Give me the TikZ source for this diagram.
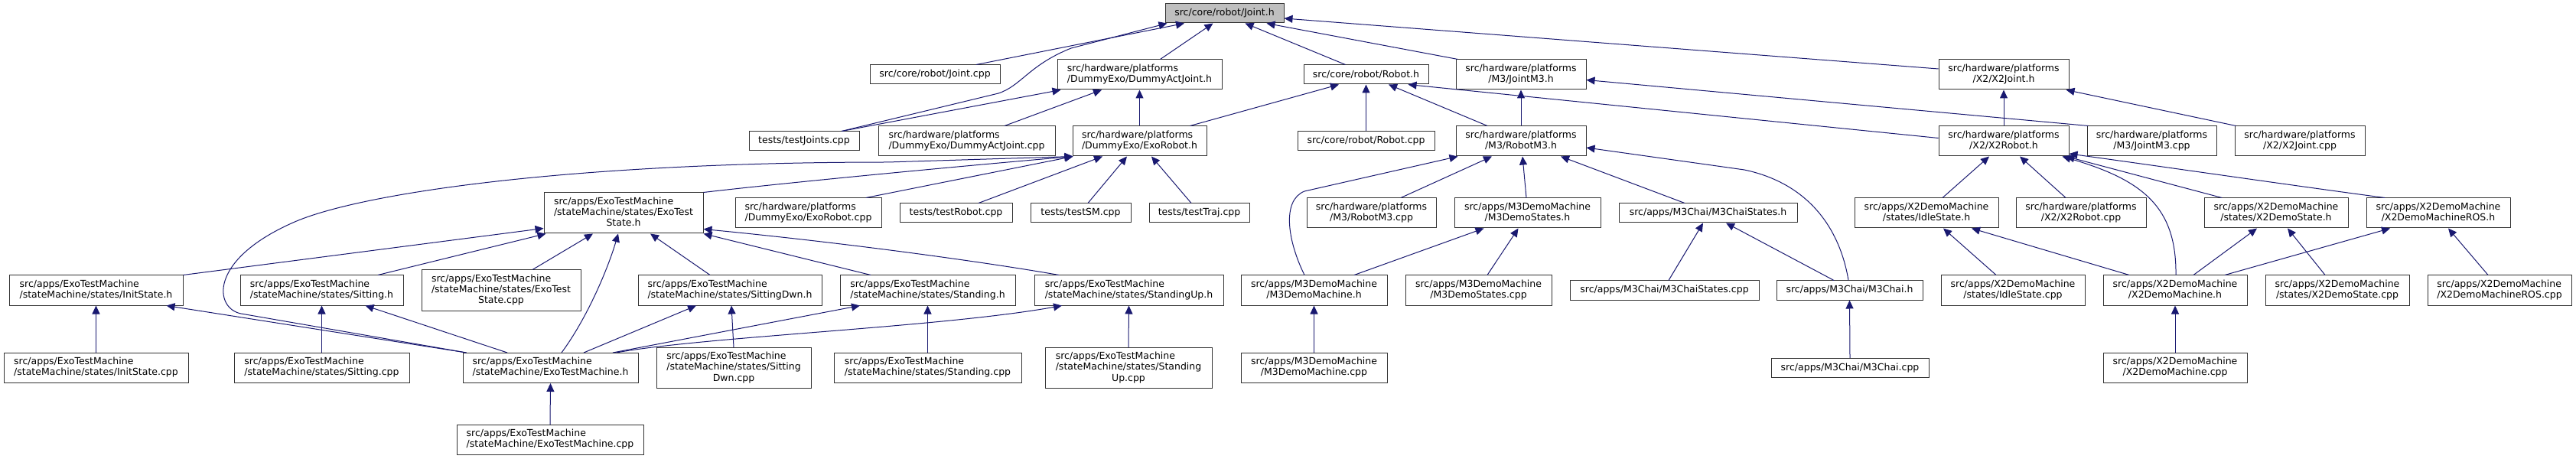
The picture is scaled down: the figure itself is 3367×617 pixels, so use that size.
\documentclass[tikz,border=0pt]{standalone}
\usepackage{fontspec}
\setmainfont{DejaVu Sans}
\usetikzlibrary{arrows.meta}
\definecolor{edgecol}{HTML}{191970}
\definecolor{boxgray}{HTML}{BFBFBF}
\newcommand{\twol}[2]{\begin{tabular}{@{}l@{}}#1\\\multicolumn{1}{@{}c@{}}{#2}\end{tabular}}
\newcommand{\threel}[3]{\begin{tabular}{@{}l@{}}#1\\#2\\\multicolumn{1}{@{}c@{}}{#3}\end{tabular}}
\tikzset{
 fbox/.style={draw=black!80, line width=1pt, fill=white, inner sep=0pt, font=\fontsize{12.5pt}{14.2pt}\selectfont},
 hA/.style={fbox, minimum height=25pt},
 hB/.style={fbox, minimum height=39pt},
 hC/.style={fbox, minimum height=53pt},
 dep/.style={draw=edgecol, line width=1pt, -{Triangle[length=11pt,width=10pt]}},
}
\begin{document}
\begin{tikzpicture}[x=1pt,y=-1pt]
\path[fill=white,use as bounding box] (0,0) rectangle (3367,617);
% row 0
\node[hA, fill=boxgray, minimum width=155pt] (jointh) at (1600.5,17.5) {src/core/robot/Joint.h};
% row 1
\node[hA, minimum width=170pt] (jointcpp) at (1222,97.5) {src/core/robot/Joint.cpp};
\node[hB, minimum width=215pt] (dajh) at (1489.5,97.5) {\twol{src/hardware/platforms}{/DummyExo/DummyActJoint.h}};
\node[hA, minimum width=163pt] (roboth) at (1785.5,97.5) {src/core/robot/Robot.h};
\node[hB, minimum width=170pt] (jm3h) at (1988,97.5) {\twol{src/hardware/platforms}{/M3/JointM3.h}};
\node[hB, minimum width=170pt] (x2jh) at (2619,97.5) {\twol{src/hardware/platforms}{/X2/X2Joint.h}};
% row 2
\node[hA, minimum width=144pt] (testj) at (1051,184.5) {tests/testJoints.cpp};
\node[hB, minimum width=231pt] (dajcpp) at (1263.5,184.5) {\twol{src/hardware/platforms}{/DummyExo/DummyActJoint.cpp}};
\node[hB, minimum width=175pt] (exorh) at (1489.5,184.5) {\twol{src/hardware/platforms}{/DummyExo/ExoRobot.h}};
\node[hA, minimum width=179pt] (robotcpp) at (1785.5,184.5) {src/core/robot/Robot.cpp};
\node[hB, minimum width=170pt] (rm3h) at (1988,184.5) {\twol{src/hardware/platforms}{/M3/RobotM3.h}};
\node[hB, minimum width=170pt] (x2rh) at (2619,184.5) {\twol{src/hardware/platforms}{/X2/X2Robot.h}};
\node[hB, minimum width=169pt] (jm3cpp) at (2812.5,184.5) {\twol{src/hardware/platforms}{/M3/JointM3.cpp}};
\node[hB, minimum width=170pt] (x2jcpp) at (3006,184.5) {\twol{src/hardware/platforms}{/X2/X2Joint.cpp}};
% row 3
\node[hC, minimum width=208pt] (etsh) at (815,278.5) {\threel{src/apps/ExoTestMachine}{/stateMachine/states/ExoTest}{State.h}};
\node[hB, minimum width=191pt] (exorcpp) at (1056.5,278.5) {\twol{src/hardware/platforms}{/DummyExo/ExoRobot.cpp}};
\node[hA, minimum width=147pt] (trobot) at (1249.5,278.5) {tests/testRobot.cpp};
\node[hA, minimum width=131pt] (tsm) at (1412.5,278.5) {tests/testSM.cpp};
\node[hA, minimum width=131pt] (ttraj) at (1567.5,278.5) {tests/testTraj.cpp};
\node[hB, minimum width=169pt] (rm3cpp) at (1792.5,278.5) {\twol{src/hardware/platforms}{/M3/RobotM3.cpp}};
\node[hB, minimum width=191pt] (m3dsh) at (1996.5,278.5) {\twol{src/apps/M3DemoMachine}{/M3DemoStates.h}};
\node[hA, minimum width=233pt] (m3csh) at (2232.5,278.5) {src/apps/M3Chai/M3ChaiStates.h};
\node[hB, minimum width=188pt] (idleh) at (2518,278.5) {\twol{src/apps/X2DemoMachine}{/states/IdleState.h}};
\node[hB, minimum width=170pt] (x2rcpp) at (2720,278.5) {\twol{src/hardware/platforms}{/X2/X2Robot.cpp}};
\node[hB, minimum width=188pt] (x2dsh) at (2975,278.5) {\twol{src/apps/X2DemoMachine}{/states/X2DemoState.h}};
\node[hB, minimum width=188pt] (x2rosh) at (3187,278.5) {\twol{src/apps/X2DemoMachine}{/X2DemoMachineROS.h}};
% row 4
\node[hB, minimum width=227pt] (inith) at (125.5,379.5) {\twol{src/apps/ExoTestMachine}{/stateMachine/states/InitState.h}};
\node[hB, minimum width=213pt] (sith) at (420.5,379.5) {\twol{src/apps/ExoTestMachine}{/stateMachine/states/Sitting.h}};
\node[hC, minimum width=208pt] (etscpp) at (655,379.5) {\threel{src/apps/ExoTestMachine}{/stateMachine/states/ExoTest}{State.cpp}};
\node[hB, minimum width=240pt] (sdh) at (954,379.5) {\twol{src/apps/ExoTestMachine}{/stateMachine/states/SittingDwn.h}};
\node[hB, minimum width=229pt] (standh) at (1212.5,379.5) {\twol{src/apps/ExoTestMachine}{/stateMachine/states/Standing.h}};
\node[hB, minimum width=247pt] (suph) at (1475.5,379.5) {\twol{src/apps/ExoTestMachine}{/stateMachine/states/StandingUp.h}};
\node[hB, minimum width=191pt] (m3dmh) at (1717.5,379.5) {\twol{src/apps/M3DemoMachine}{/M3DemoMachine.h}};
\node[hB, minimum width=191pt] (m3dscpp) at (1932.5,379.5) {\twol{src/apps/M3DemoMachine}{/M3DemoStates.cpp}};
\node[hA, minimum width=247pt] (m3cscpp) at (2175.5,379.5) {src/apps/M3Chai/M3ChaiStates.cpp};
\node[hA, minimum width=191pt] (m3ch) at (2417.5,379.5) {src/apps/M3Chai/M3Chai.h};
\node[hB, minimum width=188pt] (idlecpp) at (2631,379.5) {\twol{src/apps/X2DemoMachine}{/states/IdleState.cpp}};
\node[hB, minimum width=188pt] (x2dmh) at (2843,379.5) {\twol{src/apps/X2DemoMachine}{/X2DemoMachine.h}};
\node[hB, minimum width=188pt] (x2dscpp) at (3055,379.5) {\twol{src/apps/X2DemoMachine}{/states/X2DemoState.cpp}};
\node[hB, minimum width=188pt] (x2roscpp) at (3267,379.5) {\twol{src/apps/X2DemoMachine}{/X2DemoMachineROS.cpp}};
% row 5
\node[hB, minimum width=241pt] (initcpp) at (125.5,481) {\twol{src/apps/ExoTestMachine}{/stateMachine/states/InitState.cpp}};
\node[hB, minimum width=229pt] (sitcpp) at (420.5,481) {\twol{src/apps/ExoTestMachine}{/stateMachine/states/Sitting.cpp}};
\node[hB, minimum width=229pt] (etmh) at (719.5,481) {\twol{src/apps/ExoTestMachine}{/stateMachine/ExoTestMachine.h}};
\node[hC, minimum width=202pt] (sdcpp) at (959,481) {\threel{src/apps/ExoTestMachine}{/stateMachine/states/Sitting}{Dwn.cpp}};
\node[hB, minimum width=245pt] (standcpp) at (1212.5,481) {\twol{src/apps/ExoTestMachine}{/stateMachine/states/Standing.cpp}};
\node[hC, minimum width=218pt] (supcpp) at (1475,481) {\threel{src/apps/ExoTestMachine}{/stateMachine/states/Standing}{Up.cpp}};
\node[hB, minimum width=191pt] (m3dmcpp) at (1717.5,481) {\twol{src/apps/M3DemoMachine}{/M3DemoMachine.cpp}};
\node[hA, minimum width=206pt] (m3ccpp) at (2418,481) {src/apps/M3Chai/M3Chai.cpp};
\node[hB, minimum width=188pt] (x2dmcpp) at (2843,481) {\twol{src/apps/X2DemoMachine}{/X2DemoMachine.cpp}};
% row 6
\node[hB, minimum width=244pt] (etmcpp) at (719,575) {\twol{src/apps/ExoTestMachine}{/stateMachine/ExoTestMachine.cpp}};

% edges into Joint.h
\draw[dep] ([xshift=54pt]jointcpp.north) -- ([xshift=-52.5pt]jointh.south);
\draw[dep] ([xshift=49pt]testj.north) -- (1305,122) .. controls (1335,112) and (1345,85) .. (1400,63) -- ([xshift=-75pt]jointh.south);
\draw[dep] ([xshift=27pt]dajh.north) -- ([xshift=-15pt]jointh.south);
\draw[dep] ([xshift=-27pt]roboth.north) -- ([xshift=27pt]jointh.south);
\draw[dep] ([xshift=3pt]jm3h.north west) -- ([xshift=55pt]jointh.south);
\draw[dep] ([yshift=7.5pt]x2jh.west) -- ([yshift=-6.5pt]jointh.east);
% DummyActJoint.h
\draw[dep] ([xshift=49pt]testj.north) -- ([xshift=-103pt]dajh.south);
\draw[dep] ([xshift=49.5pt]dajcpp.north) -- ([xshift=-49.5pt]dajh.south);
\draw[dep] (exorh.north) -- (dajh.south);
% Robot.h
\draw[dep] ([xshift=66pt]exorh.north) -- ([xshift=-35.5pt]roboth.south);
\draw[dep] (robotcpp.north) -- (roboth.south);
\draw[dep] ([xshift=-44pt]rm3h.north) -- ([xshift=29.5pt]roboth.south);
\draw[dep] ([yshift=4pt]x2rh.west) -- ([xshift=55pt]roboth.south);
% JointM3.h, X2Joint.h
\draw[dep] (rm3h.north) -- (jm3h.south);
\draw[dep] ([xshift=2pt]jm3cpp.north west) -- ([yshift=-7pt]jm3h.east);
\draw[dep] (x2rh.north) -- (x2jh.south);
\draw[dep] ([xshift=2pt]x2jcpp.north west) -- ([xshift=-4pt]x2jh.south east);
% ExoRobot.h
\draw[dep] ([xshift=-110pt]etmh.north) -- (315,410) .. controls (280,403) and (272,340) .. (383,291) .. controls (470,252) and (750,212) .. (1160,212) -- ([xshift=1pt]exorh.south west);
\draw[dep] (etsh.north east) .. controls (1000,242) and (1200,222) .. ([xshift=1pt]exorh.south west);
\draw[dep] ([xshift=75.5pt]exorcpp.north) -- ([xshift=1pt]exorh.south west);
\draw[dep] ([xshift=29.5pt]trobot.north) -- ([xshift=-48.5pt]exorh.south);
\draw[dep] ([xshift=9.5pt]tsm.north) -- ([xshift=-16.5pt]exorh.south);
\draw[dep] ([xshift=-10.5pt]ttraj.north) -- ([xshift=15.5pt]exorh.south);
% ExoTestState.h
\draw[dep] (inith.north east) -- ([yshift=-20pt]etsh.west);
\draw[dep] ([xshift=73.5pt]sith.north) -- ([xshift=3pt]etsh.south west);
\draw[dep] ([xshift=41pt]etscpp.north) -- ([xshift=-40pt]etsh.south);
\draw[dep] ([xshift=14.5pt]etmh.north) .. controls (768,415) and (795,350) .. ([xshift=-7pt]etsh.south);
\draw[dep] ([xshift=-26pt]sdh.north) -- ([xshift=35pt]etsh.south);
\draw[dep] ([xshift=-74.5pt]standh.north) -- (etsh.south east);
\draw[dep] ([xshift=-91.5pt]suph.north) .. controls (1290,343) and (1110,318) .. ([yshift=-21pt]etsh.east);
% ExoTestMachine.h includes
\draw[dep] ([xshift=5pt]etmh.north west) -- ([xshift=92pt]inith.south);
\draw[dep] ([xshift=-56.5pt]etmh.north) -- ([xshift=57pt]sith.south);
\draw[dep] ([xshift=43.5pt]etmh.north) -- ([xshift=-44pt]sdh.south);
\draw[dep] ([xshift=81.5pt]etmh.north) -- ([xshift=-88.5pt]standh.south);
\draw[dep] ([xshift=86pt]etmh.north) .. controls (920,440) and (1230,428) .. ([xshift=-87.5pt]suph.south);
\draw[dep] (etmcpp.north) -- (etmh.south);
\draw[dep] (initcpp.north) -- (inith.south);
\draw[dep] (sitcpp.north) -- (sith.south);
\draw[dep] (sdcpp.north) -- ([xshift=2pt]sdh.south);
\draw[dep] (standcpp.north) -- (standh.south);
\draw[dep] (supcpp.north) -- (suph.south);
% M3
\draw[dep] ([xshift=-12.5pt]m3dmh.north) .. controls (1683,315) and (1675,262) .. (1705,250) -- ([xshift=3pt]rm3h.south west);
\draw[dep] ([xshift=38.5pt]rm3cpp.north) -- ([xshift=-38pt]rm3h.south);
\draw[dep] ([xshift=-1.5pt]m3dsh.north) -- ([xshift=2pt]rm3h.south);
\draw[dep] ([xshift=-30.5pt]m3csh.north) -- ([xshift=52pt]rm3h.south);
\draw[dep] ([xshift=-1.5pt]m3ch.north) .. controls (2405,300) and (2365,240) .. (2280,222) -- ([yshift=-8.5pt]rm3h.east);
\draw[dep] ([xshift=52.5pt]m3dmh.north) -- ([xshift=-57pt]m3dsh.south);
\draw[dep] ([xshift=11.5pt]m3dscpp.north) -- ([xshift=-12pt]m3dsh.south);
\draw[dep] (m3dmcpp.north) -- (m3dmh.south);
\draw[dep] ([xshift=5.5pt]m3cscpp.north) -- ([xshift=-6.5pt]m3csh.south);
\draw[dep] ([xshift=-20.5pt]m3ch.north) -- ([xshift=23.5pt]m3csh.south);
\draw[dep] (m3ccpp.north) -- (m3ch.south);
% X2
\draw[dep] ([xshift=21pt]idleh.north) -- ([xshift=-19pt]x2rh.south);
\draw[dep] ([xshift=-20pt]x2rcpp.north) -- ([xshift=21pt]x2rh.south);
\draw[dep] ([xshift=1pt]x2dmh.north) .. controls (2845,270) and (2800,235) .. ([xshift=-9pt]x2rh.south east);
\draw[dep] ([xshift=-71pt]x2dsh.north) -- ([xshift=-4pt]x2rh.south east);
\draw[dep] ([xshift=-70pt]x2rosh.north) .. controls (3000,243) and (2800,214) .. ([yshift=-16.5pt]x2rh.east);
\draw[dep] ([xshift=-22pt]idlecpp.north) -- ([xshift=22pt]idleh.south);
\draw[dep] ([xshift=-60pt]x2dmh.north) -- ([xshift=59pt]idleh.south);
\draw[dep] ([xshift=24pt]x2dmh.north) -- ([xshift=-25pt]x2dsh.south);
\draw[dep] ([xshift=-16pt]x2dscpp.north) -- ([xshift=15pt]x2dsh.south);
\draw[dep] ([xshift=65pt]x2dmh.north) -- ([xshift=-63pt]x2rosh.south);
\draw[dep] ([xshift=-15pt]x2roscpp.north) -- ([xshift=13pt]x2rosh.south);
\draw[dep] (x2dmcpp.north) -- (x2dmh.south);
\end{tikzpicture}
\end{document}
